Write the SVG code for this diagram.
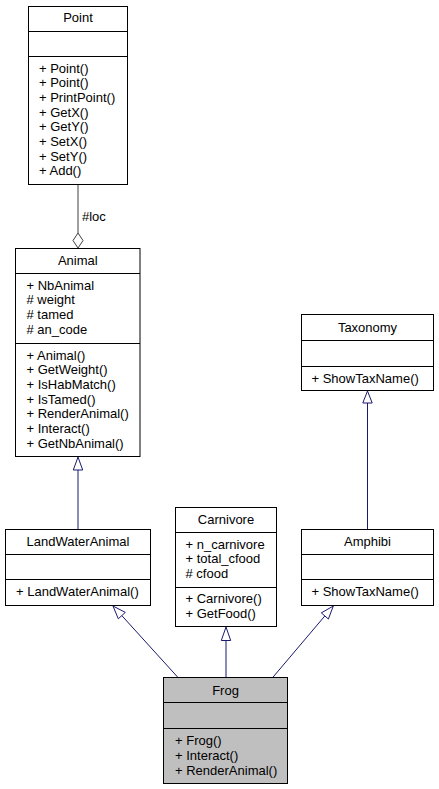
<svg xmlns="http://www.w3.org/2000/svg" width="439" height="789" viewBox="0 0 439 789">
<style>
.box{fill:#ffffff;stroke:#000000;stroke-width:1}
.frog{fill:#bfbfbf;stroke:#000000;stroke-width:1}
.sep{stroke:#000000;stroke-width:1}
text{font-family:"Liberation Sans",Arial,Helvetica,sans-serif;font-size:13px;fill:#000000}
.t{text-anchor:middle}
.inh{stroke:#191970;stroke-width:1;fill:none}
.inhhead{fill:#ffffff;stroke:#191970;stroke-width:1}
.agg{stroke:#404040;stroke-width:1;fill:none}
.agghead{fill:#ffffff;stroke:#404040;stroke-width:1}
</style>
<rect width="439" height="789" fill="#ffffff"/>
<g id="connectors">
<line class="agg" x1="78" y1="184.5" x2="78" y2="233"/>
<polygon class="agghead" points="78,248 83,240.5 78,233 73,240.5"/>
<text x="82" y="220.5">#loc</text>
<line class="inh" x1="78" y1="470" x2="78" y2="529.5"/>
<polygon class="inhhead" points="78,457 82.7,470 73.3,470"/>
<line class="inh" x1="367.5" y1="403" x2="367.5" y2="529.5"/>
<polygon class="inhhead" points="367.5,391 372.2,403 362.8,403"/>
<line class="inh" x1="226" y1="640.5" x2="226" y2="677.5"/>
<polygon class="inhhead" points="226,627 230.7,640.5 221.3,640.5"/>
<line class="inh" x1="121.8" y1="615.6" x2="178" y2="677.5"/>
<polygon class="inhhead" points="113,606 125.3,612.4 118.3,618.8"/>
<line class="inh" x1="324.9" y1="615.9" x2="272.7" y2="677.5"/>
<polygon class="inhhead" points="333.3,606 328.4,619 321.3,612.9"/>
</g>
<g id="Point">
<rect class="box" x="28.5" y="6.5" width="99" height="178"/>
<line class="sep" x1="28.5" y1="31.5" x2="127.5" y2="31.5"/>
<line class="sep" x1="28.5" y1="56.5" x2="127.5" y2="56.5"/>
<text class="t" x="78" y="22">Point</text>
<text x="39" y="72.8">+ Point()</text>
<text x="39" y="87.4">+ Point()</text>
<text x="39" y="102.1">+ PrintPoint()</text>
<text x="39" y="116.7">+ GetX()</text>
<text x="39" y="131.4">+ GetY()</text>
<text x="39" y="146">+ SetX()</text>
<text x="39" y="160.7">+ SetY()</text>
<text x="39" y="175.4">+ Add()</text>
</g>
<g id="Animal">
<rect class="box" x="15.5" y="248.5" width="124.5" height="208"/>
<line class="sep" x1="15.5" y1="273.5" x2="140" y2="273.5"/>
<line class="sep" x1="15.5" y1="343.5" x2="140" y2="343.5"/>
<text class="t" x="77.75" y="265.3">Animal</text>
<text x="26.5" y="289.6">+ NbAnimal</text>
<text x="26.5" y="304.3"># weight</text>
<text x="26.5" y="318.9"># tamed</text>
<text x="26.5" y="333.6"># an_code</text>
<text x="26.5" y="359.6">+ Animal()</text>
<text x="26.5" y="374.3">+ GetWeight()</text>
<text x="26.5" y="388.9">+ IsHabMatch()</text>
<text x="26.5" y="403.6">+ IsTamed()</text>
<text x="26.5" y="418.3">+ RenderAnimal()</text>
<text x="26.5" y="432.9">+ Interact()</text>
<text x="26.5" y="447.6">+ GetNbAnimal()</text>
</g>
<g id="Taxonomy">
<rect class="box" x="301.5" y="314.5" width="132" height="76"/>
<line class="sep" x1="301.5" y1="340.5" x2="433.5" y2="340.5"/>
<line class="sep" x1="301.5" y1="366.5" x2="433.5" y2="366.5"/>
<text class="t" x="367.5" y="331.9">Taxonomy</text>
<text x="311.5" y="382.9">+ ShowTaxName()</text>
</g>
<g id="LandWaterAnimal">
<rect class="box" x="5.5" y="529.5" width="145" height="76"/>
<line class="sep" x1="5.5" y1="554.5" x2="150.5" y2="554.5"/>
<line class="sep" x1="5.5" y1="579.5" x2="150.5" y2="579.5"/>
<text class="t" x="78" y="545.6">LandWaterAnimal</text>
<text x="16" y="596.3">+ LandWaterAnimal()</text>
</g>
<g id="Carnivore">
<rect class="box" x="175.5" y="507.5" width="101" height="119"/>
<line class="sep" x1="175.5" y1="532.5" x2="276.5" y2="532.5"/>
<line class="sep" x1="175.5" y1="587.5" x2="276.5" y2="587.5"/>
<text class="t" x="226" y="523.6">Carnivore</text>
<text x="185.5" y="548.6">+ n_carnivore</text>
<text x="185.5" y="563.3">+ total_cfood</text>
<text x="185.5" y="577.9"># cfood</text>
<text x="185.5" y="602.9">+ Carnivore()</text>
<text x="185.5" y="617.6">+ GetFood()</text>
</g>
<g id="Amphibi">
<rect class="box" x="301.5" y="529.5" width="132" height="76"/>
<line class="sep" x1="301.5" y1="554.5" x2="433.5" y2="554.5"/>
<line class="sep" x1="301.5" y1="579.5" x2="433.5" y2="579.5"/>
<text class="t" x="367.5" y="545.6">Amphibi</text>
<text x="311.5" y="596.3">+ ShowTaxName()</text>
</g>
<g id="Frog">
<rect class="frog" x="163.5" y="677.5" width="124" height="106"/>
<line class="sep" x1="163.5" y1="702.5" x2="287.5" y2="702.5"/>
<line class="sep" x1="163.5" y1="728.5" x2="287.5" y2="728.5"/>
<text class="t" x="225.5" y="694.6">Frog</text>
<text x="175" y="745.3">+ Frog()</text>
<text x="175" y="759.9">+ Interact()</text>
<text x="175" y="774.6">+ RenderAnimal()</text>
</g>
</svg>
